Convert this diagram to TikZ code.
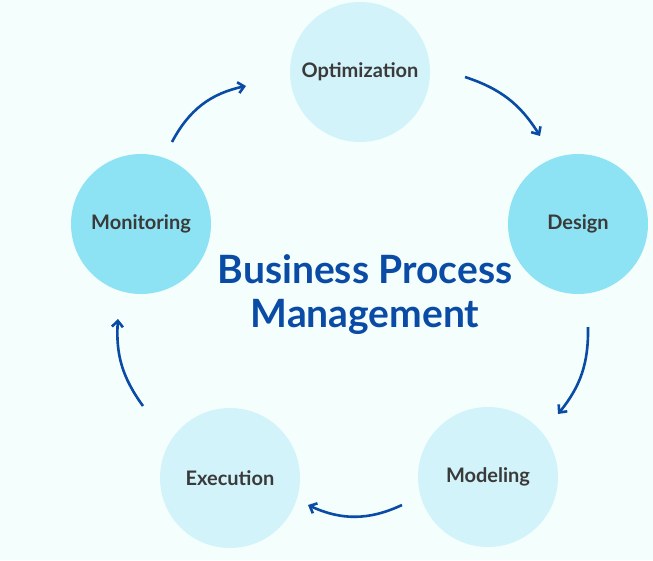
\documentclass[tikz,border=0pt]{standalone}
\usepackage{fontspec}
\setmainfont{Lato}
\usetikzlibrary{arrows.meta}
\definecolor{bg}{HTML}{F4FEFC}
\definecolor{lightc}{HTML}{D2F3F9}
\definecolor{darkc}{HTML}{8DE3F4}
\definecolor{blu}{HTML}{0A4BA6}
\definecolor{txt}{HTML}{3A3A3A}
\begin{document}
\begin{tikzpicture}[x=1pt,y=-1pt,
  stage/.style={circle,minimum size=140pt,inner sep=0pt,font=\bfseries\fontsize{20}{24}\selectfont,text=txt},
  flow/.style={draw=blu,line width=2.6pt,-{Straight Barb[length=6pt,width=11pt]}}]
\fill[bg] (0,0) rectangle (653,560);
\useasboundingbox (0,0) rectangle (653,560);
\node[stage,fill=lightc] (opt) at (360,72) {Optimization};
\node[stage,fill=darkc] (des) at (578,224) {Design};
\node[stage,fill=darkc] (mon) at (141,224) {Monitoring};
\node[stage,fill=lightc] (mod) at (488,477) {Modeling};
\node[stage,fill=lightc] (exe) at (230,478) {Execution};
\node[text=blu,font=\bfseries\fontsize{39}{44}\selectfont,align=center] (title) at (365,295) {Business Process\\Management};
\coordinate (a1) at (172,142); \coordinate (b1) at (246,86);
\coordinate (a2) at (465,77); \coordinate (b2) at (540,136);
\coordinate (a3) at (588,327); \coordinate (b3) at (558,414);
\coordinate (a4) at (402,505); \coordinate (b4) at (308,505);
\coordinate (a5) at (143,406); \coordinate (b5) at (118,319);
\draw[flow] (a1) to[bend left=25] (b1);
\draw[flow] (a2) to[bend left=20] (b2);
\draw[flow] (a3) to[bend left=20] (b3);
\draw[flow] (a4) to[bend left=25] (b4);
\draw[flow] (a5) to[bend left=20] (b5);
\end{tikzpicture}
\end{document}
